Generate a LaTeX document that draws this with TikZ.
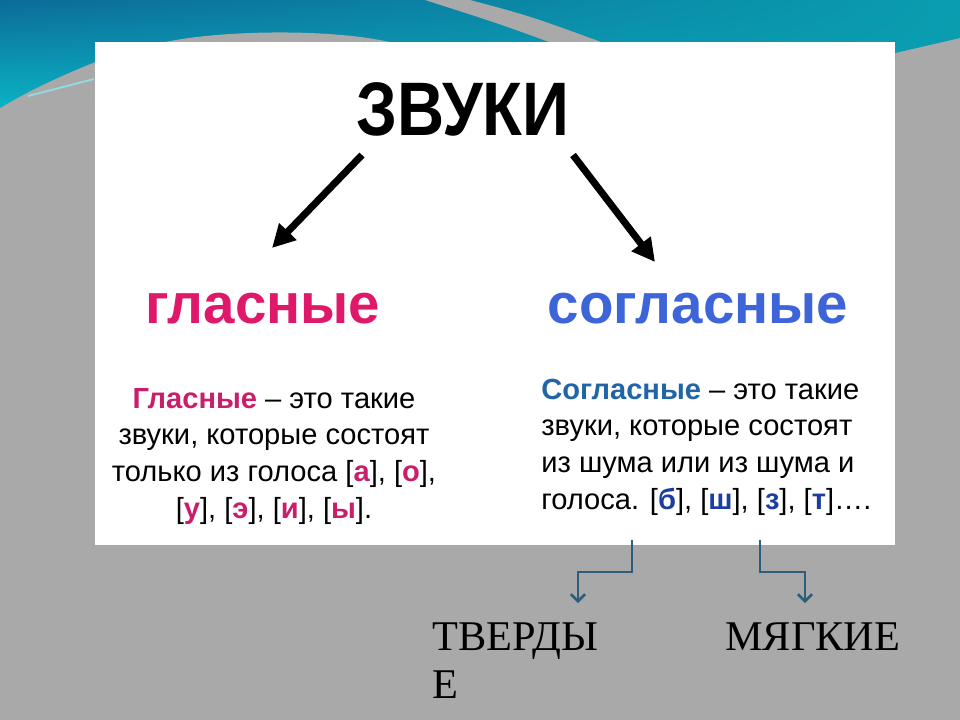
\documentclass[tikz,border=0pt]{standalone}
\usepackage{fontspec}
\setmainfont{Liberation Sans}
\newfontfamily\serifcyr{Liberation Serif}
\usetikzlibrary{arrows.meta,positioning,calc,shadings}

\definecolor{bandtop}{HTML}{0C6B99}
\definecolor{bandlow}{HTML}{0AB3C4}
\definecolor{bandright}{HTML}{0A9DB0}
\definecolor{hatchgray}{HTML}{A9A9A9}
\definecolor{glascol}{HTML}{E0186A}
\definecolor{glasdark}{HTML}{C81E6C}
\definecolor{soglcol}{HTML}{3D64D8}
\definecolor{sogldark}{HTML}{2065A5}
\definecolor{soglletter}{HTML}{1C3E9E}
\definecolor{branchcol}{HTML}{2E5C7C}

\newcommand{\glas}[1]{{\color{glasdark}\bfseries #1}}
\newcommand{\sogl}[1]{{\color{soglletter}\bfseries #1}}

\begin{document}
\begin{tikzpicture}[x=0.5669pt,y=-0.5669pt,
    bigarrow/.style={line width=4pt,-{Triangle[length=13pt,width=13pt]}},
    branch/.style={draw=branchcol,line width=0.7pt,-{Straight Barb[length=4pt,width=8pt,line width=1.5pt]}},
    head/.style={font=\fontsize{32}{36}\selectfont\bfseries,anchor=base,inner sep=0pt},
    para/.style={font=\fontsize{16.5}{20.7}\selectfont,inner sep=0pt},
    kind/.style={font=\serifcyr\fontsize{24}{27}\selectfont,anchor=base west,inner sep=0pt,align=left}]
    \useasboundingbox (0,0) rectangle (960,720);

    % background
    \fill[hatchgray] (0,0) rectangle (960,720);
    \shade[upper left=bandtop,lower left=bandlow,upper right=bandright,lower right=bandright]
        (0,0) -- (960,0) -- (960,38) -- (895,53) -- (895,60) -- (100,60)
        .. controls (60,76) and (30,90) .. (0,108) -- cycle;
    \fill[hatchgray] (150,46) .. controls (200,30) and (340,26) .. (405,46) -- cycle;
    \fill[hatchgray] (425,0) -- (470,0) .. controls (530,16) .. (612,46)
        -- (560,46) .. controls (500,24) .. cycle;
    \draw[bandlow!45,line width=1pt] (28,96) -- (94,79);

    % board
    \fill[white] (95,42) rectangle (895,545);

    \node[inner sep=0pt,anchor=base] (title) at (463,135)
        {\fontsize{43}{43}\selectfont\bfseries\scalebox{0.86}[1]{ЗВУКИ}};

    \coordinate (ls) at (362,155);
    \coordinate (le) at (272,248);
    \coordinate (rs) at (573,155);
    \coordinate (re) at (655,262);
    \draw[bigarrow] (ls) -- (le);
    \draw[bigarrow] (rs) -- (re);

    \node[head,text=glascol] (glas) at (263,323) {гласные};
    \node[head,text=soglcol] (sogl) at (698,323) {согласные};

    % base = last line
    \node[para,align=center,anchor=base] (glastext) at (274,518)
        {\glas{Гласные} – это такие\\
         звуки, которые состоят\\
         только из голоса [\glas{а}], [\glas{о}],\\{}%
         [\glas{у}], [\glas{э}], [\glas{и}], [\glas{ы}].};
    \node[para,align=left,anchor=base west] (sogltext) at (541,509)
        {{\color{sogldark}\bfseries Согласные} – это такие\\
         звуки, которые состоят\\
         из шума или из шума и\\
         голоса. [\sogl{б}], [\sogl{ш}], [\sogl{з}], [\sogl{т}]….};

    % hard and soft
    \coordinate (tvs) at (632,540);
    \coordinate (tve) at (578,603);
    \coordinate (mgs) at (760,540);
    \coordinate (mge) at (805,603);
    \draw[branch] (tvs) -- ++(0,32) -| (tve);
    \draw[branch] (mgs) -- ++(0,32) -| (mge);

    \node[kind] (tverd) at (432,698) {ТВЕРДЫ\\Е};
    \node[kind] (myagk) at (725,650) {МЯГКИЕ};
\end{tikzpicture}
\end{document}
